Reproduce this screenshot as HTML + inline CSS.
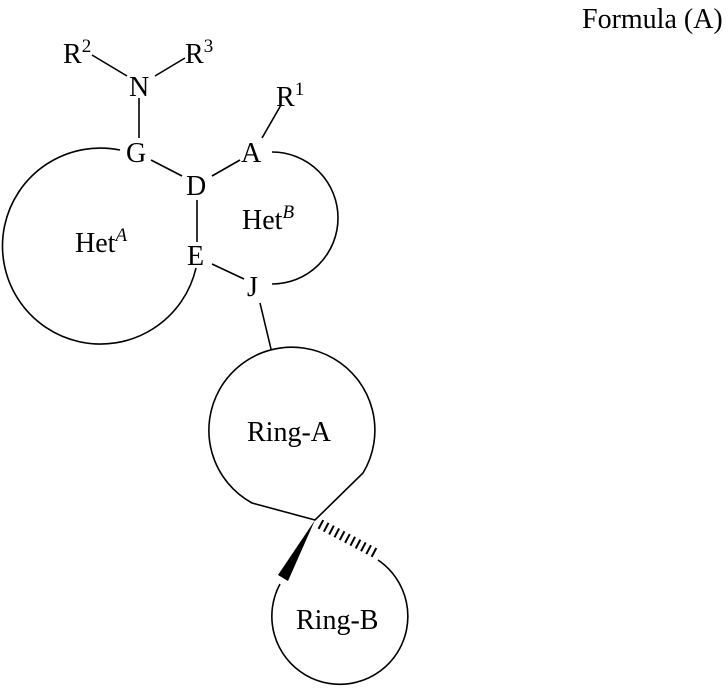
<!DOCTYPE html>
<html><head><meta charset="utf-8"><style>
html,body{margin:0;padding:0;background:#fff;}
svg{display:block;}
text{font-family:"Liberation Serif",serif;font-size:28px;fill:#000;}
.s{font-size:19px;}
</style></head><body>
<svg width="728" height="690" viewBox="0 0 728 690" xmlns="http://www.w3.org/2000/svg">
<g stroke="#000" stroke-width="1.6" fill="none">
<path d="M120,150 A98,98 0 1 0 196,268"/>
<path d="M272,152 A66,66 0 0 1 272,284"/>
<path d="M252,503 A83,83 0 1 1 363,473 L315,520 Z" />
<path d="M280,584 A68,68 0 1 0 378,560"/>
<line x1="92" y1="55" x2="127" y2="76"/>
<line x1="155" y1="76" x2="185" y2="58"/>
<line x1="139" y1="98" x2="139" y2="138"/>
<line x1="151" y1="160" x2="182" y2="176"/>
<line x1="212" y1="176" x2="240" y2="160"/>
<line x1="262" y1="138" x2="281" y2="105"/>
<line x1="197" y1="200" x2="197" y2="242"/>
<line x1="212" y1="264" x2="244" y2="279"/>
<line x1="260" y1="303" x2="271" y2="349"/>
</g>
<polygon points="315,520 278,575 288,581" fill="#000"/>
<line x1="320" y1="524" x2="375" y2="553" stroke="#000" stroke-width="10" stroke-dasharray="2,4"/>
<text x="63" y="63">R<tspan class="s" dy="-11">2</tspan></text>
<text x="129" y="96">N</text>
<text x="185" y="63">R<tspan class="s" dy="-11">3</tspan></text>
<text x="126" y="162">G</text>
<text x="186" y="195">D</text>
<text x="241" y="162">A</text>
<text x="276" y="106">R<tspan class="s" dy="-11">1</tspan></text>
<text x="187" y="265">E</text>
<text x="247" y="296">J</text>
<text x="75" y="252">Het<tspan class="s" font-style="italic" dy="-11">A</tspan></text>
<text x="242" y="229">Het<tspan class="s" font-style="italic" dy="-11">B</tspan></text>
<text x="247" y="441">Ring-A</text>
<text x="296" y="629">Ring-B</text>
<text x="582" y="28">Formula (A)</text>
</svg>
</body></html>
